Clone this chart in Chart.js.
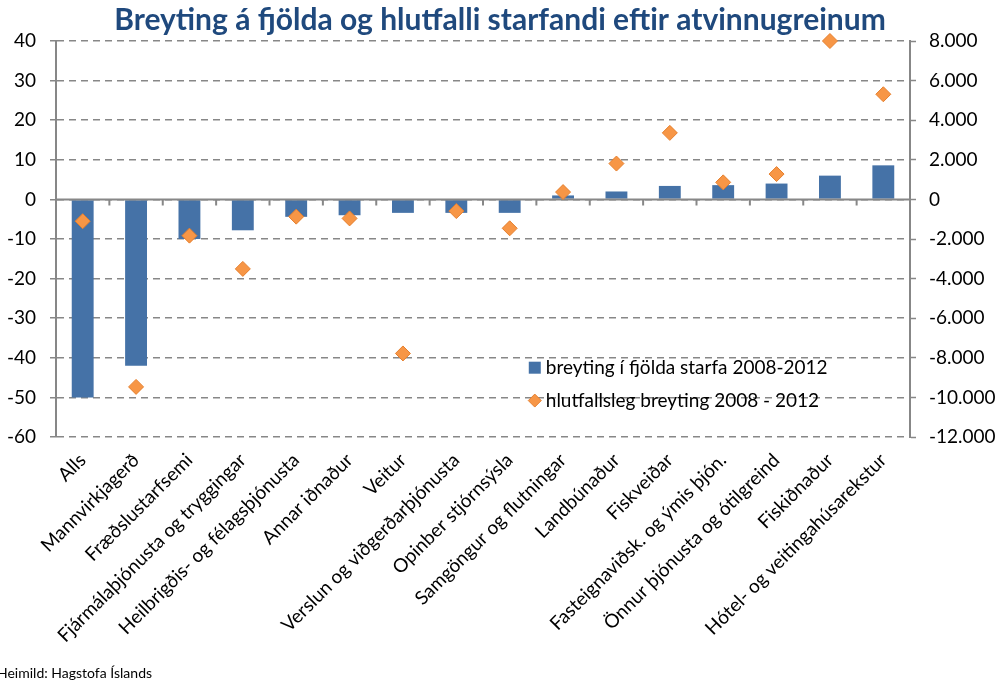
<!DOCTYPE html>
<html>
<head>
<meta charset="utf-8">
<script src="https://cdn.jsdelivr.net/npm/chart.js@4.4.1/dist/chart.umd.min.js"></script>
<style>
  body { margin: 0; background: #fff; }
  .wrap { width: 1000px; height: 684px; position: relative; }
</style>
</head>
<body>
<div class="wrap"><canvas id="atvChart"></canvas></div>
<script>
const categories = [
  'Alls', 'Mannvirkjagerð', 'Fræðslustarfsemi', 'Fjármálaþjónusta og tryggingar',
  'Heilbrigðis- og félagsþjónusta', 'Annar iðnaður', 'Veitur', 'Verslun og viðgerðarþjónusta',
  'Opinber stjórnsýsla', 'Samgöngur og flutningar', 'Landbúnaður', 'Fiskveiðar',
  'Fasteignaviðsk. og ýmis þjón.', 'Önnur þjónusta og ótilgreind', 'Fiskiðnaður',
  'Hótel- og veitingahúsarekstur'
]
// bars, left axis
const starfaBreyting = [-50, -42, -10, -7.8, -4.4, -4, -3.4, -3.4, -3.4, 1, 2, 3.4, 3.6, 4, 6, 8.6]
// diamonds, right axis
const hlutfallBreyting = [-1100, -9470, -1830, -3510, -870, -960, -7780, -590, -1460, 370, 1810, 3360, 860, 1280, 8000, 5310]

const seriesNames = ['breyting í fjölda starfa 2008-2012', 'hlutfallsleg breyting 2008 - 2012']
const leftAxis = [-60, 40, 10]
const rightAxis = [-12000, 8000, 2000]

const FONT = 'Lato'
const FSIZE = 19
const GRID = '#878787'
const BLUE = '#4572A7'
const ORANGE = '#F79646'

function dotted(v) {
  let s = String(Math.abs(v)).replace(/\B(?=(\d{3})+(?!\d))/g, '.')
  return (v < 0 ? '-' : '') + s
}

// zero line across the plot with tick marks between categories
const zeroAxis = {
  id: 'zeroAxis',
  afterDatasetDraw(chart, args) {
    if (args.meta.type !== 'bar') return
    const {ctx, chartArea, scales} = chart
    const y0 = scales.y.getPixelForValue(0)
    ctx.save()
    ctx.strokeStyle = GRID
    ctx.lineWidth = 2
    ctx.beginPath()
    ctx.moveTo(chartArea.left, y0)
    ctx.lineTo(chartArea.right, y0)
    for (let i = 0; i <= categories.length; i++) {
      let x = scales.x.getPixelForValue(i - 0.5)
      ctx.moveTo(x, y0)
      ctx.lineTo(x, y0 + 6)
    }
    ctx.stroke()
    ctx.restore()
  }
}

// legend inside the plot and the source line under it
const extras = {
  id: 'extras',
  afterDraw(chart) {
    const {ctx, scales} = chart
    const lx = scales.x.getPixelForValue(8.47)
    const ly1 = scales.y.getPixelForValue(-42.5)
    const ly2 = scales.y.getPixelForValue(-50.8)
    ctx.save()
    ctx.fillStyle = BLUE
    ctx.fillRect(lx - 6, ly1 - 6, 12, 12)
    ctx.fillStyle = ORANGE
    ctx.strokeStyle = '#E57F2E'
    ctx.beginPath()
    ctx.moveTo(lx, ly2 - 6.5)
    ctx.lineTo(lx + 6.5, ly2)
    ctx.lineTo(lx, ly2 + 6.5)
    ctx.lineTo(lx - 6.5, ly2)
    ctx.closePath()
    ctx.fill()
    ctx.stroke()
    ctx.fillStyle = '#000'
    ctx.font = FSIZE + 'px ' + FONT
    ctx.textBaseline = 'middle'
    ctx.textAlign = 'left'
    ctx.fillText(seriesNames[0], lx + 11, ly1)
    ctx.fillText(seriesNames[1], lx + 11, ly2)
    ctx.font = '14px ' + FONT
    ctx.fillText('Heimild: Hagstofa Íslands', -3, chart.height - 11)
    ctx.restore()
  }
}

const ctx = document.getElementById('atvChart').getContext('2d')
new Chart(ctx, {
  data: {
    labels: categories,
    datasets: [
      {
        type: 'line',
        label: seriesNames[1],
        data: hlutfallBreyting,
        yAxisID: 'y1',
        showLine: false,
        clip: false,
        pointStyle: 'rectRot',
        pointRadius: 7.5,
        pointBackgroundColor: ORANGE,
        pointBorderColor: '#E57F2E',
        pointBorderWidth: 1,
        order: 0
      },
      {
        type: 'bar',
        label: seriesNames[0],
        data: starfaBreyting,
        yAxisID: 'y',
        backgroundColor: BLUE,
        barPercentage: 0.41,
        categoryPercentage: 1,
        order: 1
      }
    ]
  },
  options: {
    responsive: true,
    maintainAspectRatio: false,
    animation: false,
    layout: { padding: 0 },
    plugins: {
      legend: { display: false },
      tooltip: { enabled: false },
      title: {
        display: true,
        text: 'Breyting á fjölda og hlutfalli starfandi eftir atvinnugreinum',
        color: '#1F497D',
        font: { family: FONT, size: 30, weight: 'bold', lineHeight: 1.1 },
        padding: { top: 4, bottom: 4 }
      }
    },
    scales: {
      x: {
        grid: { display: false, drawTicks: false },
        border: { display: false },
        ticks: {
          autoSkip: false,
          maxRotation: 45,
          minRotation: 45,
          padding: 12,
          color: '#000',
          font: { family: FONT, size: FSIZE }
        },
        afterFit(scale) { scale.height = 247 }
      },
      y: {
        position: 'left',
        min: leftAxis[0],
        max: leftAxis[1],
        ticks: {
          stepSize: leftAxis[2],
          padding: 14,
          color: '#000',
          font: { family: FONT, size: FSIZE }
        },
        grid: { color: GRID, lineWidth: 1.5, tickLength: 6, tickColor: GRID, tickWidth: 1.5 },
        border: { display: true, color: GRID, width: 2, dash: [7, 5] },
        afterFit(scale) { scale.width = 56 }
      },
      y1: {
        position: 'right',
        min: rightAxis[0],
        max: rightAxis[1],
        ticks: {
          stepSize: rightAxis[2],
          padding: 13,
          color: '#000',
          font: { family: FONT, size: FSIZE },
          callback: (v) => dotted(v)
        },
        grid: { drawOnChartArea: false, tickLength: 6, tickColor: GRID, tickWidth: 1.5 },
        border: { display: true, color: GRID, width: 2 },
        afterFit(scale) { scale.width = 90 }
      }
    }
  },
  plugins: [zeroAxis, extras]
})
</script>
</body>
</html>
